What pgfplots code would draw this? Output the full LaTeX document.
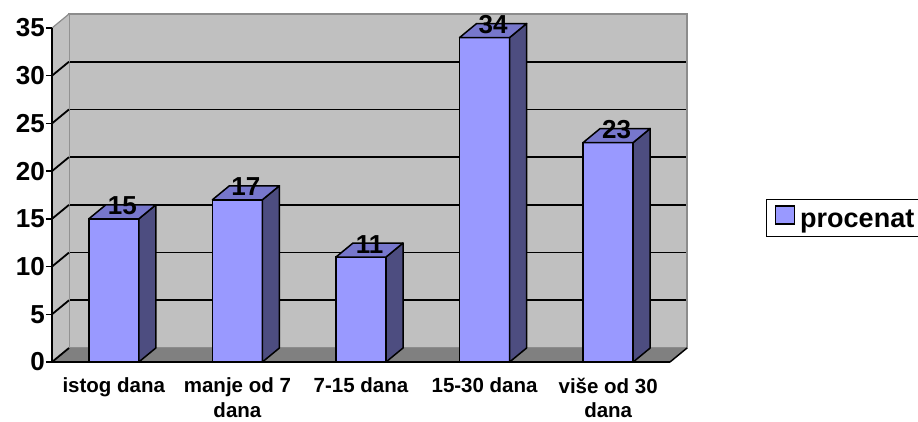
\documentclass[border=0pt]{standalone}
\usepackage{fontspec}
\setmainfont{Liberation Sans}
\usepackage{pgfplots}
\pgfplotsset{compat=1.18}
\usepackage{pgfplotstable}

\definecolor{frontcol}{HTML}{9999FF}
\definecolor{sidecol}{HTML}{4D4D80}
\definecolor{topcol}{HTML}{7777CC}
\definecolor{wallgray}{HTML}{C0C0C0}
\definecolor{floorgray}{HTML}{808080}
\definecolor{edgegray}{HTML}{8C8C8C}

\pgfplotstableread{
x y
0 15
1 17
2 11
3 34
4 23
}\datatable

% side and top face of a bar, drawn from the top centre of the front face
\pgfdeclareplotmark{bar3d}{%
  \pgfmathsetlengthmacro\hh{\h*9.543pt}%
  \pgfsetlinewidth{1.5pt}\pgfsetroundjoin
  \pgfsetstrokecolor{black}%
  \pgfpathmoveto{\pgfqpoint{25pt}{0pt}}%
  \pgfpathlineto{\pgfqpoint{42pt}{14pt}}%
  \pgfpathlineto{\pgfpoint{42pt}{14pt-\hh}}%
  \pgfpathlineto{\pgfpoint{25pt}{-\hh}}%
  \pgfpathclose
  \pgfsetfillcolor{sidecol}\pgfusepath{fill,stroke}%
  \pgfpathmoveto{\pgfqpoint{-25pt}{0pt}}%
  \pgfpathlineto{\pgfqpoint{25pt}{0pt}}%
  \pgfpathlineto{\pgfqpoint{42pt}{14pt}}%
  \pgfpathlineto{\pgfqpoint{-8pt}{14pt}}%
  \pgfpathclose
  \pgfsetfillcolor{topcol}\pgfusepath{fill,stroke}%
}

\begin{document}
\begin{tikzpicture}
\path[use as bounding box] (0,0) rectangle (918pt,421pt);

% back wall, floor and side wall
\begin{axis}[
    at={(69pt,73pt)}, anchor=south west,
    x=123.6pt, y=9.543pt,
    xmin=-0.5, xmax=4.5, ymin=0, ymax=35,
    clip=false,
    axis background/.style={fill=wallgray},
    axis line style={draw=edgegray, line width=1.2pt},
    xtick=\empty,
    ytick={5,10,...,30}, yticklabels={},
    major tick length=0pt,
    ymajorgrids,
    y grid style={black, line width=1.8pt},
]
\fill[wallgray] (axis cs:-0.5,0) -- (axis cs:-0.5,35) -- ++(-17pt,-14pt) -- ([xshift=-17pt,yshift=-14pt]axis cs:-0.5,0) -- cycle;
\fill[floorgray] (axis cs:-0.5,0) -- (axis cs:4.5,0) -- ++(-17pt,-14pt) -- ([xshift=-17pt,yshift=-14pt]axis cs:-0.5,0) -- cycle;
\draw[edgegray, line width=1.2pt] (axis cs:-0.5,35) -- ++(-17pt,-14pt);
\draw[black, line width=1.5pt] (axis cs:4.5,0) -- ++(-17pt,-14pt);
\pgfplotsinvokeforeach{0,5,10,15,20,25,30}{
  \draw[black, line width=1.8pt] (axis cs:-0.5,#1) -- ++(-17pt,-14pt);
}
\end{axis}

% bars, axes, labels
\begin{axis}[
    at={(52pt,59pt)}, anchor=south west,
    x=123.6pt, y=9.543pt,
    xmin=-0.5, xmax=4.5, ymin=0, ymax=35,
    clip=false,
    axis x line*=bottom, axis y line*=left,
    axis line style={black, line width=1.5pt},
    tick align=outside,
    major tick length=6pt, minor tick length=7pt,
    ytick={0,5,...,35},
    y tick style={black, line width=1.5pt},
    yticklabel style={font=\fontsize{26}{26}\selectfont\bfseries, inner sep=1pt},
    xtick={0,...,4},
    xticklabels={istog dana, {manje od 7\\dana}, 7-15 dana, 15-30 dana, {više od 30\\dana}},
    x tick style={draw=none},
    minor xtick={-0.5,0.5,1.5,2.5,3.5,4.5},
    minor x tick style={black, line width=1.5pt},
    xticklabel style={font=\fontsize{20.5}{24.5}\selectfont\bfseries, align=center, anchor=north, inner sep=1pt, yshift=-8.5pt},
    /pgf/number format/assume math mode=true,
    legend style={at={(1.1553,0.431)}, anchor=west, draw=black, line width=1.5pt,
        font=\fontsize{27}{27}\selectfont\bfseries, inner xsep=8pt, inner ysep=6pt,
        cells={anchor=west}},
    legend image code/.code={\draw[fill=frontcol, draw=black, line width=1.5pt] (0pt,-5pt) rectangle (19pt,13pt); \path (22pt,0pt);},
]
\addplot[ybar, bar width=50pt, fill=frontcol, draw=black, line width=1.5pt] table[x=x, y=y] {\datatable};
\addlegendentry{procenat}
\addplot[scatter, only marks, mark=bar3d, forget plot,
    visualization depends on={rawy \as \h},
    scatter/@pre marker code/.code={}, scatter/@post marker code/.code={}]
    table[x=x, y=y] {\datatable};
\addplot[only marks, mark=none, forget plot,
    nodes near coords,
    nodes near coords style={anchor=base, xshift=8.5pt, yshift=4pt, inner sep=0pt,
        font=\fontsize{26}{26}\selectfont\bfseries, /pgf/number format/assume math mode=true}]
    table[x=x, y=y] {\datatable};
\end{axis}
\end{tikzpicture}
\end{document}
